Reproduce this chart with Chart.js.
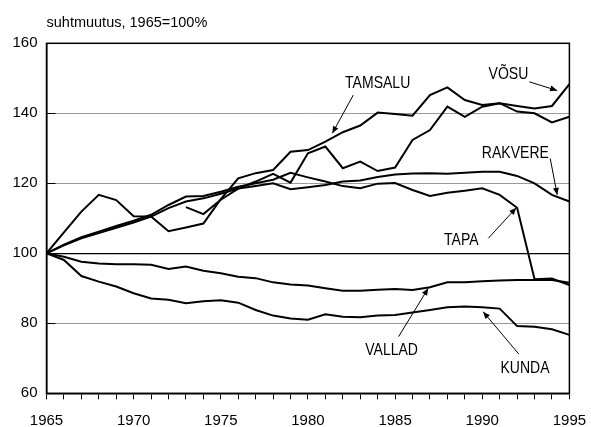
<!DOCTYPE html>
<html>
<head>
<meta charset="utf-8">
<script src="https://cdn.jsdelivr.net/npm/chart.js@4.4.0/dist/chart.umd.min.js"></script>
<style>
  html, body { margin: 0; padding: 0; background: #fff; }
  #wrap { position: relative; width: 591px; height: 427px; }
</style>
</head>
<body>
<div id="wrap"><canvas id="chart" width="591" height="427"></canvas></div>
<script>
// —————— DATA ——————
const years = [1965, 1966, 1967, 1968, 1969, 1970, 1971, 1972, 1973, 1974, 1975,
  1976, 1977, 1978, 1979, 1980, 1981, 1982, 1983, 1984, 1985,
  1986, 1987, 1988, 1989, 1990, 1991, 1992, 1993, 1994, 1995];

const tamsalu = [100, 106, 111.9, 116.7, 115.2, 110.6, 110.5, 106.3, 107.4, 108.5, 115.5,
  121.4, 122.9, 123.8, 129, 129.5, 131.9, 134.6, 136.5, 140.2, 139.8,
  139.3, 145.2, 147.4, 143.8, 142.4, 142.9, 140.5, 140, 137.4, 139];

const vosu = [null, null, null, null, null, null, null, null, 113.2, 111.2, 115.3,
  118.5, 120.5, 122.7, 120.2, 128.6, 130.5, 124.3, 126.2, 123.5, 124.5,
  132.4, 135.2, 141.9, 139, 141.9, 142.9, 142.1, 141.4, 142.1, 148.3];

const rakvere = [100, 102.3, 104.3, 105.8, 107.3, 108.8, 110.5, 112.9, 114.8, 115.7, 117,
  118.5, 119.2, 120, 118.3, 118.9, 119.5, 120.5, 120.8, 121.8, 122.5,
  122.8, 122.9, 122.7, 123, 123.3, 123.3, 122.1, 120, 116.7, 114.8];

const tapa = [100, 102.5, 104.6, 106.2, 107.8, 109.3, 111, 113.8, 116.2, 116.4, 117.6,
  119, 120, 121, 123, 121.7, 120.5, 119.2, 118.6, 119.9, 120.1,
  118.1, 116.4, 117.3, 117.9, 118.6, 116.7, 113, 92.6, 92.8, 90.9];

const vallad = [100, 99, 97.6, 97.1, 96.9, 96.9, 96.7, 95.5, 96.2, 95, 94.3,
  93.3, 92.9, 91.7, 91.1, 90.8, 90, 89.3, 89.3, 89.6, 89.8,
  89.5, 90.3, 91.7, 91.7, 92, 92.2, 92.4, 92.4, 92.4, 91.6];

const kunda = [100, 98.1, 93.5, 91.9, 90.5, 88.6, 87.1, 86.7, 85.7, 86.3, 86.6,
  85.9, 83.8, 82.2, 81.4, 81, 82.6, 81.9, 81.7, 82.2, 82.4,
  83.1, 83.8, 84.6, 84.8, 84.6, 84.2, 79.2, 79, 78.3, 76.7];

const yTicks = [60, 80, 100, 120, 140, 160];
const axisTitle = 'suhtmuutus, 1965=100%';

// label text, label centre and arrow (from -> to), all in data units
const callouts = [
  { text: 'TAMSALU', x: 1984.0, y: 148.5, fromX: 1982.6, fromY: 145.2, toX: 1981.4, toY: 134.3 },
  { text: 'VÕSU',    x: 1991.5, y: 151.2, fromX: 1992.7, fromY: 149.0, toX: 1994.3, toY: 146.5 },
  { text: 'RAKVERE', x: 1991.9, y: 128.5, fromX: 1993.9, fromY: 127.1, toX: 1994.3, toY: 116.7 },
  { text: 'TAPA',    x: 1988.8, y: 103.8, fromX: 1990.35, fromY: 104.3, toX: 1991.95, toY: 113.0 },
  { text: 'VALLAD',  x: 1984.8, y: 72.2,  fromX: 1985.2, fromY: 76.2, toX: 1986.9, toY: 90.0 },
  { text: 'KUNDA',   x: 1992.45, y: 67.2, fromX: 1992.1, fromY: 71.2, toX: 1990.05, toY: 83.3 }
];

const FONT = '"Liberation Sans", Arial, sans-serif';

function toPoints(values) {
  return years.map((yr, i) => ({ x: yr, y: values[i] }));
}

function lineSet(label, values) {
  return {
    label: label,
    data: toPoints(values),
    borderColor: '#000',
    borderWidth: 2,
    pointRadius: 0,
    tension: 0,
    fill: false,
    spanGaps: false
  };
}

// —————— EXTRAS: title, frame, inner ticks, callouts ——————
const extras = {
  id: 'extras',
  afterDatasetsDraw(chart) {
    const ctx = chart.ctx;
    const area = chart.chartArea;
    const xs = chart.scales.x;
    const ys = chart.scales.y;
    ctx.save();

    // frame
    ctx.strokeStyle = '#000';
    ctx.lineWidth = 1.5;
    ctx.strokeRect(area.left, area.top, area.right - area.left, area.bottom - area.top);

    // short inner ticks on the y axis
    ctx.lineWidth = 1;
    yTicks.forEach(v => {
      const py = Math.round(ys.getPixelForValue(v)) + 0.5;
      ctx.beginPath();
      ctx.moveTo(area.left, py);
      ctx.lineTo(area.left + 9, py);
      ctx.stroke();
    });

    // axis title
    ctx.fillStyle = '#000';
    ctx.font = '14.5px ' + FONT;
    ctx.textAlign = 'left';
    ctx.textBaseline = 'alphabetic';
    ctx.fillText(axisTitle, area.left, 27);

    // callouts
    callouts.forEach(c => {
      const lx = xs.getPixelForValue(c.x);
      const ly = ys.getPixelForValue(c.y);
      ctx.save();
      ctx.translate(lx, ly);
      ctx.scale(0.85, 1);
      ctx.font = '16.5px ' + FONT;
      ctx.textAlign = 'center';
      ctx.textBaseline = 'middle';
      ctx.fillStyle = '#000';
      ctx.fillText(c.text, 0, 0);
      ctx.restore();

      const x1 = xs.getPixelForValue(c.fromX), y1 = ys.getPixelForValue(c.fromY);
      const x2 = xs.getPixelForValue(c.toX), y2 = ys.getPixelForValue(c.toY);
      ctx.strokeStyle = '#000';
      ctx.lineWidth = 1;
      ctx.beginPath();
      ctx.moveTo(x1, y1);
      ctx.lineTo(x2, y2);
      ctx.stroke();
      const ang = Math.atan2(y2 - y1, x2 - x1);
      const len = 7, half = 3;
      ctx.beginPath();
      ctx.moveTo(x2, y2);
      ctx.lineTo(x2 - len * Math.cos(ang) + half * Math.sin(ang), y2 - len * Math.sin(ang) - half * Math.cos(ang));
      ctx.lineTo(x2 - len * Math.cos(ang) - half * Math.sin(ang), y2 - len * Math.sin(ang) + half * Math.cos(ang));
      ctx.closePath();
      ctx.fill();
    });
    ctx.restore();
  }
};

new Chart(document.getElementById('chart'), {
  type: 'line',
  data: {
    datasets: [
      lineSet('TAMSALU', tamsalu),
      lineSet('VÕSU', vosu),
      lineSet('RAKVERE', rakvere),
      lineSet('TAPA', tapa),
      lineSet('VALLAD', vallad),
      lineSet('KUNDA', kunda)
    ]
  },
  options: {
    responsive: false,
    animation: false,
    events: [],
    layout: { padding: { left: 0, right: 21.6, top: 43.3, bottom: 0 } },
    plugins: {
      legend: { display: false },
      tooltip: { enabled: false },
      title: { display: false }
    },
    scales: {
      x: {
        type: 'linear',
        min: 1965,
        max: 1995,
        afterFit: s => { s.height = 33.7; },
        ticks: {
          stepSize: 1,
          autoSkip: false,
          maxRotation: 0,
          padding: 4,
          color: '#000',
          font: { family: FONT, size: 15, lineHeight: 2.36 },
          callback: v => (v % 5 === 0 ? String(v) : '')
        },
        grid: {
          drawOnChartArea: false,
          drawTicks: true,
          tickLength: 6,
          tickColor: '#000',
          color: '#000'
        },
        border: { color: '#000', width: 1.5 }
      },
      y: {
        min: 60,
        max: 160,
        afterFit: s => { s.width = 46.5; },
        afterBuildTicks: s => { s.ticks = yTicks.map(v => ({ value: v })); },
        ticks: {
          padding: 9,
          color: '#000',
          font: { family: FONT, size: 15 }
        },
        grid: {
          drawTicks: false,
          color: c => (c.tick && c.tick.value === 100 ? '#000' : '#9a9a9a'),
          lineWidth: c => (c.tick && c.tick.value === 100 ? 1.2 : 1)
        },
        border: { color: '#000', width: 1.5 }
      }
    }
  },
  plugins: [extras]
});
</script>
</body>
</html>
